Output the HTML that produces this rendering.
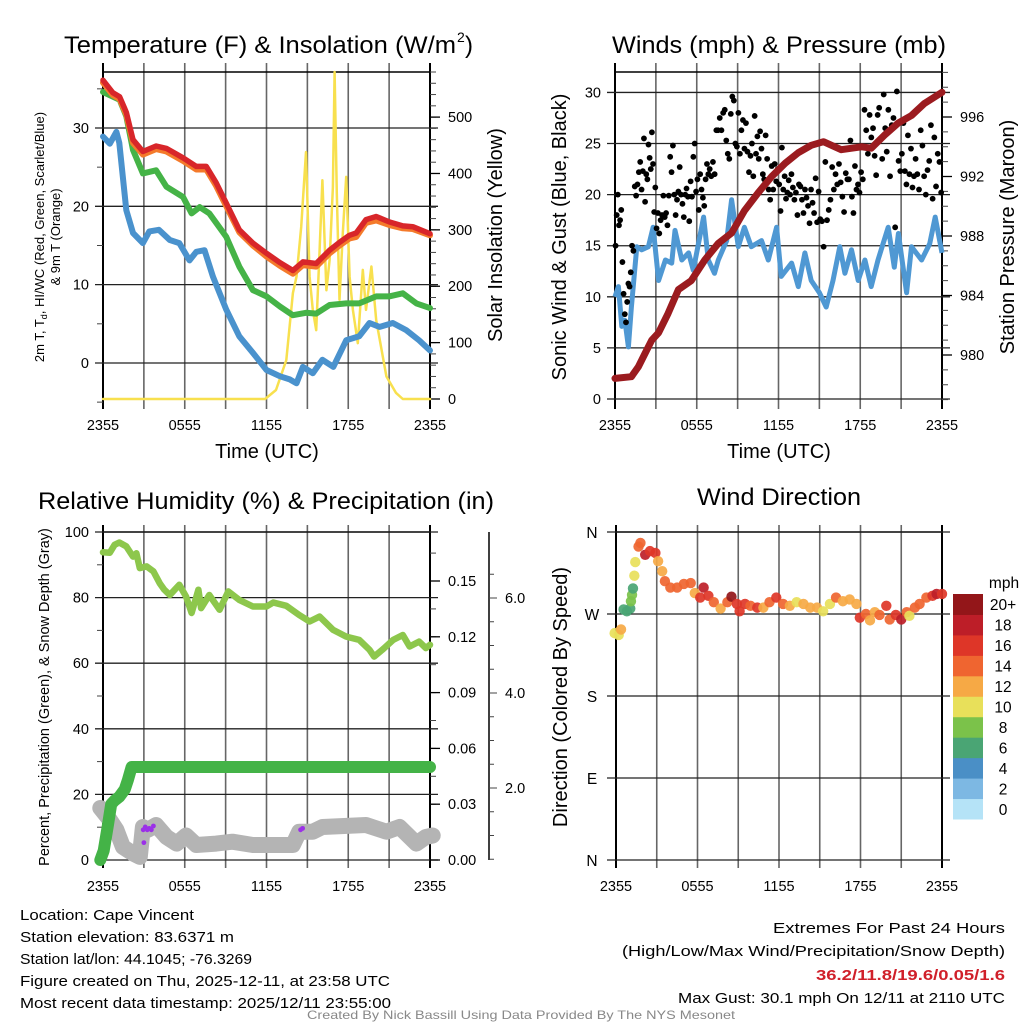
<!DOCTYPE html>
<html><head><meta charset="utf-8"><style>
html,body{margin:0;padding:0;background:#fff;width:1024px;height:1024px;overflow:hidden;}
svg{display:block;font-family:"Liberation Sans",Arial,sans-serif;}
</style></head><body>
<svg id="c" width="1024" height="1024" viewBox="0 0 1024 1024" xmlns="http://www.w3.org/2000/svg">
<rect width="1024" height="1024" fill="#fff"/>
<text x="64" y="53" font-size="24" textLength="392" lengthAdjust="spacingAndGlyphs">Temperature (F) &amp; Insolation (W/m</text>
<text x="457" y="42" font-size="14">2</text>
<text x="465" y="53" font-size="24">)</text>
<text x="612" y="53" font-size="24" textLength="334" lengthAdjust="spacingAndGlyphs">Winds (mph) &amp; Pressure (mb)</text>
<text x="38" y="509" font-size="24" textLength="456" lengthAdjust="spacingAndGlyphs">Relative Humidity (%) &amp; Precipitation (in)</text>
<text x="697" y="505" font-size="24" textLength="164" lengthAdjust="spacingAndGlyphs">Wind Direction</text>
<text x="267" y="458" font-size="20" text-anchor="middle">Time (UTC)</text>
<text x="779" y="458" font-size="20" text-anchor="middle">Time (UTC)</text>
<text transform="translate(44,237) rotate(-90)" font-size="13" text-anchor="middle">2m T, T<tspan font-size="9" dy="3">d</tspan><tspan dy="-3">, HI/WC (Red, Green, Scarlet/Blue)</tspan></text>
<text transform="translate(60,237) rotate(-90)" font-size="13" text-anchor="middle">&amp; 9m T (Orange)</text>
<text transform="translate(502,235) rotate(-90)" font-size="20" text-anchor="middle">Solar Insolation (Yellow)</text>
<text transform="translate(566,237) rotate(-90)" font-size="20" text-anchor="middle">Sonic Wind &amp; Gust (Blue, Black)</text>
<text transform="translate(1014,237) rotate(-90)" font-size="20" text-anchor="middle">Station Pressure (Maroon)</text>
<text transform="translate(49,697) rotate(-90)" font-size="14.5" text-anchor="middle">Percent, Precipitation (Green), &amp; Snow Depth (Gray)</text>
<text transform="translate(567,697) rotate(-90)" font-size="20" text-anchor="middle">Direction (Colored By Speed)</text>
<g font-size="15">
<text x="20" y="920" textLength="174" lengthAdjust="spacingAndGlyphs">Location: Cape Vincent</text>
<text x="20" y="942" textLength="214" lengthAdjust="spacingAndGlyphs">Station elevation: 83.6371 m</text>
<text x="20" y="964" textLength="232" lengthAdjust="spacingAndGlyphs">Station lat/lon: 44.1045; -76.3269</text>
<text x="20" y="986" textLength="370" lengthAdjust="spacingAndGlyphs">Figure created on Thu, 2025-12-11, at 23:58 UTC</text>
<text x="20" y="1008" textLength="371" lengthAdjust="spacingAndGlyphs">Most recent data timestamp: 2025/12/11 23:55:00</text>
</g>
<g font-size="15" text-anchor="end">
<text x="1005" y="933" textLength="232" lengthAdjust="spacingAndGlyphs">Extremes For Past 24 Hours</text>
<text x="1005" y="956" textLength="383" lengthAdjust="spacingAndGlyphs">(High/Low/Max Wind/Precipitation/Snow Depth)</text>
<text x="1005" y="980" fill="#d0202a" font-weight="bold" textLength="189" lengthAdjust="spacingAndGlyphs">36.2/11.8/19.6/0.05/1.6</text>
<text x="1005" y="1003" textLength="327" lengthAdjust="spacingAndGlyphs">Max Gust: 30.1 mph On 12/11 at 2110 UTC</text>
</g>
<text x="307" y="1019" font-size="12" fill="#888" textLength="428" lengthAdjust="spacingAndGlyphs">Created By Nick Bassill Using Data Provided By The NYS Mesonet</text>
<g id="plots"></g>
</svg>
<script>
const xTickLabels=["2355","0555","1155","1755","2355"];
const tempTicks=[0,10,20,30];
const solarTicks=[0,100,200,300,400,500];
const windTicks=[0,5,10,15,20,25,30];
const presTicks=[980,984,988,992,996];
const rhTicks=[0,20,40,60,80,100];
const precipTicks=[0.00,0.03,0.06,0.09,0.12,0.15];
const snowTicks=[2,4,6];
const dirTicks=["N","E","S","W","N"];
const speedBins=["0","2","4","6","8","10","12","14","16","18","20+"];

const redT=[0,0.73,1.22,1.71,2.2,2.93,3.9,4.65,5.87,6.85,7.58,8.31,9.05,10,11,12,13,13.94,14.67,15.65,16.63,17.36,18.09,18.58,19.3,20.05,21.03,22,22.74,24];
const redV=[36.1,34.5,34.0,32,28.5,27,27.7,27.4,26.2,25.1,25.1,23,20.4,17,15.3,14,12.8,11.8,12.9,12.7,14.4,15.4,16.3,16.6,18.3,18.7,18,17.5,17.4,16.5];
const orangeV=[35.8,34.2,33.7,31.7,28.1,26.6,27.3,27.0,25.8,24.7,24.7,22.6,20.0,16.7,15.0,13.6,12.4,11.4,12.5,12.3,14.0,15.0,15.9,16.1,17.9,18.2,17.6,17.2,17.1,16.3];
const greenT=[0,0.73,1.22,1.71,2.2,2.93,3.9,4.65,5.87,6.5,7.1,7.8,9.05,10,11,12,13,13.94,14.9,15.65,16.63,17.85,18.8,20.05,21,22,23,24];
const greenV=[34.6,34.0,33.6,31.5,27.2,24.2,24.6,22.5,21.2,19.1,19.9,19.1,16.1,12.3,9.3,8.5,7.2,6.1,6.4,6.3,7.4,7.6,7.6,8.5,8.5,8.9,7.6,7.0];
const blueT=[0,0.5,0.98,1.2,1.71,2.2,2.93,3.4,4.1,4.9,5.6,6.35,6.85,7.45,8.07,9.05,10,11,12,13,13.7,14.2,14.67,15.4,16.1,16.9,17.85,18.8,19.56,20.3,21.27,22.25,23.2,24];
const blueV=[28.9,28,29.5,28.1,19.5,16.6,15.3,16.8,17,15.7,15.3,13.1,14.2,14.4,11,6.8,3.4,1.3,-0.9,-1.7,-2.1,-2.6,-0.5,-1.3,0.4,-0.5,2.9,3.4,5.1,4.6,5.1,4.2,2.9,1.6];
const solarT=[0,11.9,12.7,13.45,13.94,14.2,14.55,14.9,15.16,15.4,15.65,15.9,16.1,16.4,16.63,16.87,17.0,17.16,17.36,17.6,17.85,18.1,18.34,18.7,19.07,19.3,19.7,20.05,20.8,21.5,22,24];
const solarV=[0,0,16,69,188,217,305,438,217,158,122,264,388,193,246,376,580,365,176,294,394,217,158,99,229,158,235,140,40,11,0,0];

const windT=[0,0.25,0.5,0.73,0.98,1.2,1.6,1.95,2.45,2.8,3.2,3.7,4.16,4.4,4.9,5.4,5.75,6.5,6.85,7.3,7.58,8.2,8.56,9.05,9.5,10,10.75,11.25,11.86,12.2,12.96,13.45,13.94,14.4,15,15.5,16,16.5,16.87,17.36,17.85,18.34,18.8,19.3,20.05,20.5,20.8,21.4,21.76,22.5,23.1,23.5,24];
const windV=[10,11,7.1,7.7,5.1,9,14.9,14.6,14.9,16.8,11.6,13.6,13.3,16.5,13.6,14.3,12.6,17.8,13.6,12.3,13.6,15.5,19.5,14.9,16.8,14.9,15.5,13.6,16.8,12,13.3,11,14.3,11.6,10.4,9,11.6,14.9,12.3,14.6,11.6,13.6,11,13.6,16.8,12.9,16.2,10.4,14.9,13.6,15.2,17.8,14.3];
const presT=[0,1.2,1.71,2.2,2.7,3.2,3.9,4.65,5.6,6.6,7.58,8.56,9.5,10.5,11.5,12.5,13.45,14.4,15.3,16.6,18.1,18.8,19.8,20.8,21.76,22.7,24];
const presV=[978.43,978.54,979.2,980.1,981,981.5,982.8,984.4,985.0,986.4,987.5,988.2,989.7,990.9,992,992.9,993.6,994.1,994.34,993.8,994,993.9,994.8,995.6,996.1,996.9,997.66];
const gustHours=[0,0.5,1.2,2,3,4,5,6,7,8,9,10,11,12,13,14,15,16,17,18,19,20,21,22,23];
const gustVals=[
[15,18,20,17,17.5,18.5],
[13.4,10.3,8.3,7.5,9.5,11.3,11,12.4],
[15,14.5,20.8,19.9,21,22.2,23.2,20.5],
[22.3,25.5,19.3,22,21.5,24.9,23.6,22.5,26.1,23,18.3,20.7],
[16.7,18.2,16.2,17.5,18,19.9,17.8,18.2,17,19.9],
[23.7,22.2,24.8,20,18,19.5,20.3,22.7,20,19.1],
[17.8,20,20.6,19.8,17.4,21.3,19.8,23.7,25,20.3],
[21.5,18.5,22,20.5,19.7,18.9,21.5,23,22,22.5],
[21.8,23.2,22,26.3,26.3,27.5,26.3,28],
[28.3,25.3,24,23.5,27.9,29.6,29.2,25,24.7],
[28,24,26.3,27.3,24.5,27,24.2,22.2,23.8],
[25,21.8,27.7,24,25.7,23.5,26.2,24.5,22,21.5],
[25.8,23.5,20.5,19.5,22.8,20.5,23,21.3,22.5],
[21,18.4,24.6,20.5,21.8,19.6,20.2,21.4,20,22],
[20.7,19.5,20.2,18,21,20.8,19.5,18.2,20.5],
[19.7,18.9,17.2,20.5,19.2,18.2,21.6,17.3,20.3],
[17.6,17.4,14.9,23.2,17.5,18.5,19.5,22.7],
[20.5,22,21,23,21.2,19.8,18.3,22.1],
[21.5,21.5,25.3,19.8,18.2,22.8,20.5,21,20.2],
[22.2,21.5,28.3,26.3,24,27.8,25.6,26.5],
[23.8,21.9,27.8,28.5,25.5,23.5,29.8,26.5,24.2],
[28.3,21.8,26.8,27.5,16.8,30.1,23.3,22.3],
[24,27,22.3,21,25.8,22,24.5,20.7,21.8],
[23.5,22,20.5,26.3,24.8,21.8,20,22.4],
[23.3,26.8,19.6,25.6,20.8,24,23.2,20.2]];

const rhT=[0,0.5,0.85,1.2,1.71,2.2,2.45,2.7,3.2,3.7,4.16,4.5,4.9,5.6,6.1,6.5,7,7.2,7.8,8.56,9.2,10,11,12,12.5,13.45,14.4,15.16,15.9,16.87,17.85,18.8,19.56,19.9,20.5,21.3,22,22.5,23.2,23.7,24];
const rhV=[93.8,93.7,96.1,96.8,95.6,92.5,93.5,89,89.5,88,84.4,82.4,80.8,83.9,80.3,75.3,82.4,76.8,80.8,76.3,81.9,79.3,77.3,77.3,78.5,77.5,74.7,72.7,74.2,70.2,68.1,67.1,64.1,62,64.1,67.1,68.6,65.1,66.6,64.6,65.6];
const precipT=[-0.2,0.05,0.37,0.6,0.85,1.2,1.6,1.83,2.1,24];
const precipV=[0,0.005,0.019,0.03,0.032,0.034,0.038,0.043,0.05,0.05];
const snowT=[-0.2,0.5,0.98,1.46,2.2,2.7,2.93,3.3,3.9,4.65,5.4,6.1,6.85,8.3,9.5,11,12.5,13.94,14.4,15.4,16.1,19.3,20.8,21.76,22.5,23,23.7,24.2];
const snowV=[1.58,1.33,1.12,0.76,0.62,0.55,1.18,1.12,1.22,0.97,0.83,1.0,0.8,0.83,0.87,0.8,0.8,0.8,1.08,1.08,1.18,1.22,1.08,1.18,0.97,0.83,0.97,1.0];
const purpleT=[2.95,3.1,3.25,3.4,3.55,3.7,3.0,14.5,14.65];
const purpleV=[1.12,1.18,1.12,1.15,1.12,1.2,0.85,1.12,1.15];

const dirT=[-0.1,0.2,0.37,0.56,0.8,1.05,1.1,1.18,1.25,1.35,1.42,1.66,1.8,2.15,2.5,2.9,3.1,3.4,3.6,4,4.5,5,5.5,5.8,6.2,6.45,6.8,7.2,7.7,8.2,8.5,8.9,9.1,9.5,9.9,10.4,10.85,11.3,11.8,12.3,12.8,13.3,13.8,14.3,14.8,15.25,15.75,16.2,16.7,17.2,17.7,17.95,18.4,18.7,19.05,19.4,19.9,20.15,20.6,21,21.4,21.6,22,22.35,22.85,23.3,23.6,24];
const dirV=[249,247,253,275,273,276,284,291,298,312,327,344,348,335,339,337,328,317,306,299,299,303,304,293,288,299,290,283,276,283,289,281,273,281,279,277,277,283,288,281,279,283,281,277,277,273,281,288,284,286,281,266,270,263,272,269,279,264,269,264,272,268,277,281,288,290,292,292];
const dirSpd=[10,11,12,6,6,7,8,8,7,10,10,14,15,18,16,16,12,12,14,14,15,14,14,12,16,18,16,14,12,14,20,16,17,16,15,16,13,14,17,14,13,10,12,13,12,10,11,14,12,13,12,16,14,12,12,14,16,15,16,18,14,10,14,14,14,16,18,16];
const speedColors=["#b5e3f7","#7db8e3","#4a8fc6","#4aa574","#7bc24a","#e8e05a","#f6a945","#ef6530","#de3628","#bd1e28","#931619"];

const NS="http://www.w3.org/2000/svg";
const root=document.getElementById('plots');
function mk(tag,attrs,parent){const e=document.createElementNS(NS,tag);for(const k in attrs)e.setAttribute(k,attrs[k]);(parent||root).appendChild(e);return e;}
function lin(d0,d1,r0,r1){return v=>r0+(v-d0)*(r1-r0)/(d1-d0);}
function path(xs,ys,sx,sy){return xs.map((t,i)=>(i?'L':'M')+sx(t).toFixed(1)+','+sy(ys[i]).toFixed(1)).join('');}

function frame(g,L,R,T,B,vTop,vBot){
  for(let h=0;h<=24;h+=3){
    const x=lin(0,24,L,R)(h);
    const ln=mk('line',{x1:x,x2:x,y1:vTop,y2:vBot,stroke:(h===0||h===24)?'#000':'#666','stroke-width':(h===0||h===24)?2:1.6},g);
    
    
  }
  const tb=mk('line',{x1:L,x2:R,y1:T,y2:T,stroke:'#000','stroke-width':1.5},g);
  
  
  xTickLabels.forEach((s,i)=>{
    const t=mk('text',{x:lin(0,4,L,R)(i),y:B+31,'font-size':14.5,'text-anchor':'middle'},g);t.textContent=s;
    
    
  });
}
function hgrid(g,ticks,sy,L,R,lab,fmt,color){
  ticks.forEach(v=>{
    const y=sy(v);
    const ln=mk('line',{x1:L-8,x2:R+8,y1:y,y2:y,stroke:color||'#222','stroke-width':1.3},g);
    
    
    if(lab){const t=mk('text',{x:L-14,y:y+5,'font-size':14.5,'text-anchor':'end'},g);t.textContent=fmt?fmt(v):v;
    
    }
  });
}
function rightAxis(g,ticks,sy,R,minorStep,d0,d1,fmt){
  for(let v=d0;v<=d1+1e-9;v+=minorStep){const y=sy(v);
    const m=mk('line',{x1:R,x2:R+6,y1:y,y2:y,stroke:'#444','stroke-width':1},g);
    
    }
  ticks.forEach(v=>{const y=sy(v);
    const m=mk('line',{x1:R,x2:R+10,y1:y,y2:y,stroke:'#000','stroke-width':1.3},g);
    
    
    const t=mk('text',{x:R+18,y:y+5,'font-size':14.5},g);t.textContent=fmt?fmt(v):v;
    
    });
}

(function(){
  const g=mk('g',{});
  
  
  const L=103,R=430,T=72,B=399;
  const sx=lin(0,24,L,R), sy=lin(-4.6,37.15,B,T), ss=lin(0,580,B,T);
  frame(g,L,R,T,B,63,409);
  hgrid(g,tempTicks,sy,L,R,true);
  for(let v=-5;v<=35;v+=5){if(v%10){const y=sy(v);const m=mk('line',{x1:L-6,x2:L,y1:y,y2:y,stroke:'#444'},g);}}
  rightAxis(g,solarTicks,ss,R,20,0,580);
  const series=[[solarT,solarV,'#f8e04e',2.5,ss,'solar-insolation-line'],[blueT,blueV,'#4a92cd',6,sy,'wind-chill-line'],[greenT,greenV,'#45b347',6,sy,'dewpoint-line'],[redT,orangeV,'#f47a2b',6,sy,'temp-9m-line'],[redT,redV,'#d8262a',5.5,sy,'temp-2m-line']];
  series.forEach(s=>{const p=mk('path',{d:path(s[0],s[1],sx,s[4]),fill:'none',stroke:s[2],'stroke-width':s[3],'stroke-linejoin':'round','stroke-linecap':'round'},g);
    
    });
})();

(function(){
  const g=mk('g',{});
  
  
  const L=615,R=942,T=72,B=399;
  const sx=lin(0,24,L,R), sy=lin(0,32,B,T), sp=lin(980,996,355,117);
  frame(g,L,R,T,B,63,409);
  hgrid(g,windTicks,sy,L,R,true);
  rightAxis(g,presTicks,sp,R,1,977,999);
  const w=mk('path',{d:path(windT,windV,sx,sy),fill:'none',stroke:'#4f98d3','stroke-width':5,'stroke-linejoin':'round'},g);
  
  
  gustVals.forEach((arr,k)=>{
    const h0=gustHours[k], h1=k+1<gustHours.length?gustHours[k+1]:24;
    arr.forEach((v,i)=>{
      const t=h0+(h1-h0)*(i+0.5)/arr.length;
      const c=mk('circle',{cx:sx(t),cy:sy(v),r:2.9,fill:'#000'},g);
      
      
    });
  });
  const p=mk('path',{d:path(presT,presV,sx,sp),fill:'none',stroke:'#9b1b1f','stroke-width':7,'stroke-linejoin':'round','stroke-linecap':'round'},g);
  
  
})();

(function(){
  const g=mk('g',{});
  
  
  const L=103,R=430,T=532,B=860;
  const sx=lin(0,24,L,R), sy=lin(0,100,B,T), spc=lin(0,0.15,B,581), ssn=lin(0,2,883,788);
  frame(g,L,R,T,B,525,868);
  hgrid(g,rhTicks,sy,L,R,true);
  for(let v=10;v<100;v+=20){const y=sy(v);const m=mk('line',{x1:L-6,x2:L,y1:y,y2:y,stroke:'#444'},g);}
  rightAxis(g,precipTicks,spc,R,0.015,0,0.17,v=>v.toFixed(2));
  const sa=mk('line',{x1:489,x2:489,y1:T,y2:B,stroke:'#000','stroke-width':1.5},g);
  
  
  for(let v=0.5;v<=6.5;v+=0.5){const y=ssn(v);if(y<T)continue;
    const m=mk('line',{x1:489,x2:489+(v%2===0?8:5),y1:y,y2:y,stroke:'#444'},g);
    
    }
  snowTicks.forEach(v=>{const t=mk('text',{x:505,y:ssn(v)+5,'font-size':14.5},g);t.textContent=v.toFixed(1);
    
    });
  const sn=mk('path',{d:path(snowT,snowV,sx,ssn),fill:'none',stroke:'#b4b4b4','stroke-width':16,'stroke-linejoin':'round','stroke-linecap':'round'},g);
  
  
  purpleT.forEach((t,i)=>{const c=mk('circle',{cx:sx(t),cy:ssn(purpleV[i]),r:2.4,fill:'#9b30e8'},g);
    
    });
  const pc=mk('path',{d:path(precipT,precipV,sx,spc),fill:'none',stroke:'#44b347','stroke-width':12,'stroke-linejoin':'round','stroke-linecap':'round'},g);
  
  
  const rh=mk('path',{d:path(rhT,rhV,sx,sy),fill:'none',stroke:'#8dc74c','stroke-width':6.5,'stroke-linejoin':'round','stroke-linecap':'round'},g);
  
  
})();

(function(){
  const g=mk('g',{});
  
  
  const L=616,R=942,T=532,B=860;
  const sx=lin(0,24,L,R), sy=lin(0,360,B,T);
  frame(g,L,R,T,B,525,868);
  const dv=[0,90,180,270,360];
  dv.forEach((v,i)=>{const y=sy(v);
    const ln=mk('line',{x1:L-9,x2:R+8,y1:y,y2:y,stroke:'#222','stroke-width':1.3},g);
    
    
    const t=mk('text',{x:592,y:y+6,'font-size':15.5,'text-anchor':'middle'},g);t.textContent=dirTicks[i];
    
    });
  dirT.forEach((t,i)=>{
    const b=Math.max(0,Math.min(10,Math.floor(dirSpd[i]/2)));
    const c=mk('circle',{cx:sx(t),cy:sy(dirV[i]),r:5.2,fill:speedColors[b],opacity:0.92},g);
    
    
  });
  const cb=mk('g',{},g);
  
  
  const top=594,bot=819,h=(bot-top)/speedBins.length;
  speedBins.forEach((s,i)=>{
    const y=bot-(i+1)*h;
    const r=mk('rect',{x:953,y:y,width:30,height:h+0.5,fill:speedColors[i]},cb);
    
    
    const t=mk('text',{x:1003,y:y+h/2+6,'font-size':15.5,'text-anchor':'middle'},cb);t.textContent=s;
    
    
  });
  const u=mk('text',{x:1004,y:588,'font-size':15.5,'text-anchor':'middle'},cb);u.textContent='mph';
  
  
})();
</script>
</body></html>
